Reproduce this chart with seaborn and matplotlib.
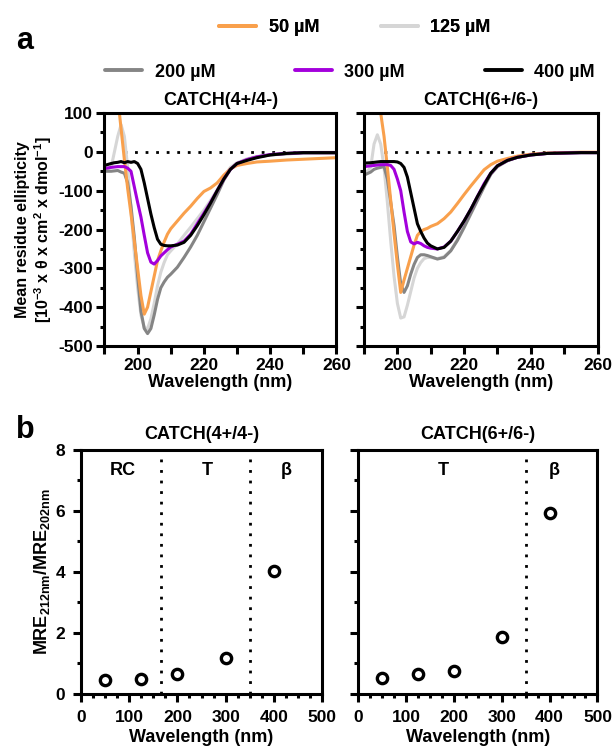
import seaborn as sns, matplotlib.pyplot as plt
import pandas as pd
from matplotlib.lines import Line2D
from matplotlib.ticker import MultipleLocator

# wavelength grid (nm) for the CD spectra
wl = [190, 192, 193, 194, 195, 196, 197, 198, 199, 200, 201, 202, 203, 204, 205, 206, 207, 208, 209, 210,
      212, 214, 216, 218, 220, 222, 224, 226, 228, 230, 233, 236, 240, 245, 250, 255, 260]

concs = ['50 µM', '125 µM', '200 µM', '300 µM', '400 µM']
colors = ['#f9a04c', '#d6d6d6', '#858585', '#a300dc', '#000000']

# CATCH(4+/4-)
c4_50 = [320, 250, 200, 140, 60, -20, -95, -160, -230, -300, -370, -418, -400, -360, -320, -280, -255, -232, -212, -198,
         -178, -158, -140, -120, -102, -93, -80, -60, -44, -35, -30, -26, -24, -21, -19, -17, -15]
c4_125 = [-47, -40, 0, 40, 70, 40, -40, -150, -260, -350, -420, -453, -455, -430, -390, -345, -310, -285, -265, -255,
          -237, -215, -194, -172, -150, -125, -98, -65, -40, -28, -18, -12, -7, -4, -2, -1, -1]
c4_200 = [-50, -50, -49, -48, -52, -55, -80, -140, -220, -320, -410, -455, -468, -455, -420, -380, -350, -335, -323, -315,
          -297, -272, -245, -215, -180, -145, -110, -73, -45, -30, -20, -13, -8, -5, -3, -3, -3]
c4_300 = [-43, -40, -39, -38, -38, -38, -42, -50, -90, -130, -168, -215, -260, -284, -289, -280, -268, -260, -252, -245,
          -238, -230, -212, -185, -158, -130, -100, -70, -45, -30, -20, -13, -7, -4, -2, -2, -2]
c4_400 = [-35, -30, -28, -27, -25, -28, -25, -27, -25, -30, -45, -80, -120, -160, -195, -225, -238, -241, -242, -242,
          -240, -233, -215, -190, -162, -132, -100, -70, -45, -30, -22, -15, -8, -4, -2, -2, -2]

# CATCH(6+/6-)
c6_50 = [320, 280, 230, 180, 100, 40, -40, -125, -210, -290, -362, -330, -300, -270, -240, -215, -205, -200, -197, -192,
         -185, -172, -155, -133, -110, -88, -67, -46, -33, -24, -17, -11, -6, -3, -2, -1, -1]
c6_125 = [-60, -40, 20, 44, 20, -40, -130, -230, -320, -390, -428, -425, -395, -360, -325, -300, -285, -275, -272, -272,
          -275, -270, -254, -225, -190, -155, -120, -85, -55, -35, -22, -14, -8, -4, -3, -2, -2]
c6_200 = [-60, -52, -45, -42, -40, -38, -70, -130, -190, -270, -340, -362, -345, -315, -290, -272, -265, -265, -267, -270,
          -276, -272, -255, -228, -195, -160, -125, -90, -58, -38, -23, -14, -8, -4, -3, -2, -2]
c6_300 = [-38, -36, -35, -34, -33, -33, -33, -35, -45, -70, -100, -155, -205, -232, -237, -233, -236, -242, -246, -248,
          -250, -245, -230, -205, -178, -148, -115, -82, -55, -36, -22, -14, -8, -4, -3, -2, -2]
c6_400 = [-29, -28, -27, -26, -25, -25, -25, -25, -25, -26, -30, -40, -65, -105, -145, -185, -205, -222, -235, -242,
          -250, -246, -230, -205, -178, -148, -115, -85, -55, -36, -22, -14, -8, -4, -3, -2, -2]

# panel b: MRE212/MRE202 ratio vs concentration
conc_val = [50, 125, 200, 300, 400]
ratio_4 = [0.45, 0.50, 0.67, 1.18, 4.03]
ratio_6 = [0.53, 0.67, 0.76, 1.87, 5.94]

sns.set_theme(style='ticks')
plt.rcParams['font.family'] = ['Liberation Sans', 'DejaVu Sans']
plt.rcParams['font.weight'] = 'bold'
plt.rcParams['axes.labelweight'] = 'bold'
for k in ['text.color', 'axes.labelcolor', 'xtick.color', 'ytick.color', 'axes.edgecolor']:
    plt.rcParams[k] = 'black'
plt.rcParams['mathtext.fontset'] = 'custom'
plt.rcParams['mathtext.rm'] = 'Liberation Sans:bold'
plt.rcParams['mathtext.it'] = 'Liberation Sans:bold'
plt.rcParams['mathtext.bf'] = 'Liberation Sans:bold'
plt.rcParams['mathtext.default'] = 'bf'

FS = 13
DOT = (0, (1, 2.8))

fig = plt.figure(figsize=(6.15, 7.55), dpi=100)
axA1 = fig.add_axes([0.1699, 0.5417, 0.3772, 0.3086])
axA2 = fig.add_axes([0.5919, 0.5417, 0.3797, 0.3086])
axB1 = fig.add_axes([0.1317, 0.0808, 0.3919, 0.3232])
axB2 = fig.add_axes([0.5821, 0.0808, 0.3894, 0.3232])

draw_order = [1, 2, 0, 3, 4]


def spectra_df(series):
    rows = []
    for i in draw_order:
        for w, v in zip(wl, series[i]):
            rows.append({'wl': w, 'mre': v, 'conc': concs[i]})
    return pd.DataFrame(rows)


def style_axes(ax, pad=3):
    for s in ax.spines.values():
        s.set_linewidth(2.2)
        s.set_color('black')
    ax.tick_params(which='major', width=2.2, length=5.5, labelsize=12.5, color='black', pad=pad)
    ax.tick_params(which='minor', width=2.2, length=3, color='black')


for ax, series, title in [(axA1, [c4_50, c4_125, c4_200, c4_300, c4_400], 'CATCH(4+/4-)'),
                          (axA2, [c6_50, c6_125, c6_200, c6_300, c6_400], 'CATCH(6+/6-)')]:
    df = spectra_df(series)
    sns.lineplot(data=df, x='wl', y='mre', hue='conc', hue_order=[concs[i] for i in draw_order],
                 palette=[colors[i] for i in draw_order], linewidth=2.2, estimator=None, sort=False,
                 legend=False, ax=ax)
    ax.hlines(0, 196, 260, colors='black', linestyles=DOT, linewidth=2, zorder=1)
    ax.set_xlim(190, 260)
    ax.set_ylim(-500, 100)
    ax.set_xticks(range(190, 261, 10))
    ax.set_xticklabels(['', '200', '', '220', '', '240', '', '260'])
    ax.set_yticks(range(-500, 101, 100))
    ax.yaxis.set_minor_locator(MultipleLocator(50))
    ax.set_xlabel('Wavelength (nm)', fontsize=FS, fontweight='bold', labelpad=1)
    ax.set_ylabel('')
    ax.set_title(title, fontsize=FS, fontweight='bold', pad=6)
    style_axes(ax)

axA1.set_yticklabels(['-500', '-400', '-300', '-200', '-100', '0', '100'])
axA2.set_yticklabels([])
axA1.set_ylabel('Mean residue ellipticity\n[10$^{-3}$ x θ x cm$^{2}$ x dmol$^{-1}$]',
                fontsize=11.5, fontweight='bold', labelpad=3, linespacing=1.1)

for ax, ratios, title, bounds, regions in [
        (axB1, ratio_4, 'CATCH(4+/4-)', [165, 350], [(86, 'RC'), (262, 'T'), (426, 'β')]),
        (axB2, ratio_6, 'CATCH(6+/6-)', [350], [(178, 'T'), (410, 'β')])]:
    dfb = pd.DataFrame({'conc': conc_val, 'ratio': ratios})
    sns.scatterplot(data=dfb, x='conc', y='ratio', marker='o', s=55, facecolor='white',
                    edgecolor='black', linewidth=2.4, ax=ax, zorder=3, clip_on=False)
    for b in bounds:
        ax.axvline(b, color='black', linestyle=DOT, linewidth=2, zorder=1)
    for xpos, lab in regions:
        ax.text(xpos, 7.33, lab, ha='center', va='center', fontsize=FS, fontweight='bold')
    ax.set_xlim(0, 500)
    ax.set_ylim(0, 8)
    ax.set_xticks(range(0, 501, 100))
    ax.xaxis.set_minor_locator(MultipleLocator(25))
    ax.set_yticks(range(0, 9, 2))
    ax.yaxis.set_minor_locator(MultipleLocator(1))
    ax.set_xlabel('Wavelength (nm)', fontsize=FS, fontweight='bold', labelpad=3)
    ax.set_ylabel('')
    ax.set_title(title, fontsize=FS, fontweight='bold', pad=8)
    style_axes(ax, pad=6)

axB2.set_yticklabels([])
axB1.set_ylabel('MRE$_{212nm}$/MRE$_{202nm}$', fontsize=FS, fontweight='bold', labelpad=2)

# legend in two rows
h = [Line2D([0], [0], color=c, linewidth=2.8) for c in colors]
leg1 = fig.legend(h[:2], concs[:2], ncol=2, loc='center', bbox_to_anchor=(0.577, 0.9636), frameon=False,
                  prop={'size': FS, 'weight': 'bold'}, handlelength=2.05, handletextpad=0.7, columnspacing=3.4)
fig.add_artist(leg1)
fig.legend(h[2:], concs[2:], ncol=3, loc='center', bbox_to_anchor=(0.569, 0.9046), frameon=False,
           prop={'size': FS, 'weight': 'bold'}, handlelength=2.05, handletextpad=0.7, columnspacing=4.4)

fig.text(0.026, 0.9457, 'a', fontsize=22, fontweight='bold', va='center')
fig.text(0.026, 0.43, 'b', fontsize=22, fontweight='bold', va='center')

plt.savefig('out.png', dpi=100)
